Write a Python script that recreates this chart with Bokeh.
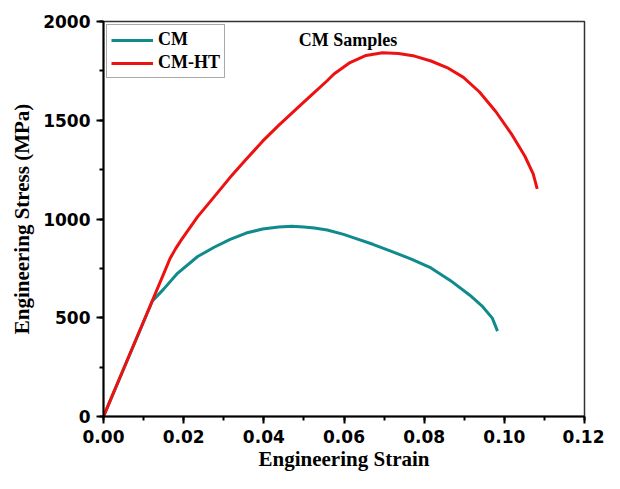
from bokeh.plotting import figure
from bokeh.models import (Range1d, SingleIntervalTicker, Label, Legend, LegendItem,
                          NumeralTickFormatter)
from bokeh.embed import file_html
from bokeh.resources import INLINE

# ---- data ----
cm_strain = [0.0, 0.0060, 0.0122, 0.0150, 0.0183, 0.0235, 0.0276, 0.0316,
             0.0356, 0.0397, 0.0437, 0.0470, 0.0500, 0.0526, 0.0558,
             0.0599, 0.0623, 0.0672, 0.0720, 0.0768, 0.0817, 0.0865,
             0.0914, 0.0946, 0.0970, 0.0983]
cm_stress = [0, 288, 585, 645, 722, 810, 857, 897,
             929, 949, 960, 963, 960, 954, 944,
             922, 906, 872, 835, 797, 752, 689,
             614, 556, 498, 432]

ht_strain = [0.0, 0.0080, 0.0150, 0.0166, 0.0180, 0.0195, 0.0235, 0.0276,
             0.0316, 0.0356, 0.0397, 0.0437, 0.0478, 0.0518, 0.0558,
             0.0575, 0.0615, 0.0655, 0.0696, 0.0736, 0.0776, 0.0817,
             0.0857, 0.0898, 0.0938, 0.0979, 0.1019, 0.1051, 0.1072, 0.1082]
ht_stress = [0, 385, 722, 800, 850, 897, 1012, 1112,
             1211, 1302, 1394, 1474, 1551, 1626, 1700,
             1734, 1792, 1828, 1842, 1838, 1825, 1800,
             1767, 1717, 1643, 1543, 1427, 1319, 1228, 1153]

x_tick_step = 0.02
y_tick_step = 500
minor_per_major = 2

series_names = ["CM", "CM-HT"]
series_colors = ["#0f8b8d", "#ee1111"]

TICK_FONT = "DejaVu Sans"
SERIF = "Liberation Serif"

p = figure(width=604, height=473, output_backend="svg", toolbar_location=None,
           x_range=Range1d(0, 0.12), y_range=Range1d(0, 2000),
           min_border_left=103, min_border_right=20, min_border_top=21,
           min_border_bottom=56)

p.xgrid.visible = False
p.ygrid.visible = False
p.background_fill_color = "white"
p.border_fill_color = "white"
p.outline_line_color = "#333333"
p.outline_line_width = 1.5

r1 = p.line(cm_strain, cm_stress, line_color=series_colors[0], line_width=3,
            line_join="round")
r2 = p.line(ht_strain, ht_stress, line_color=series_colors[1], line_width=3,
            line_join="round")

for ax, step in ((p.xaxis[0], x_tick_step), (p.yaxis[0], y_tick_step)):
    ax.ticker = SingleIntervalTicker(interval=step, num_minor_ticks=minor_per_major)
    ax.axis_line_color = "black"
    ax.axis_line_width = 2
    ax.major_tick_line_color = "black"
    ax.major_tick_line_width = 2
    ax.minor_tick_line_color = "black"
    ax.minor_tick_line_width = 2
    ax.major_tick_in = 0
    ax.major_tick_out = 7
    ax.minor_tick_in = 0
    ax.minor_tick_out = 4
    ax.major_label_text_font = TICK_FONT
    ax.major_label_text_font_style = "bold"
    ax.major_label_text_font_size = "17px"
    ax.major_label_text_color = "black"
    ax.axis_label_text_font = SERIF
    ax.axis_label_text_font_style = "bold"
    ax.axis_label_text_font_size = "21px"
    ax.axis_label_text_color = "black"

p.xaxis[0].formatter = NumeralTickFormatter(format="0.00")
p.xaxis[0].major_label_standoff = 6
p.xaxis[0].axis_label_standoff = 1
p.yaxis[0].major_label_standoff = 6
p.yaxis[0].axis_label_standoff = 6
p.xaxis[0].axis_label = "Engineering Strain"
p.yaxis[0].axis_label = "Engineering Stress (MPa)"

legend = Legend(items=[LegendItem(label=series_names[0], renderers=[r1]),
                       LegendItem(label=series_names[1], renderers=[r2])],
                location="top_left", margin=3, padding=4, spacing=2,
                glyph_width=42, glyph_height=20, label_height=20,
                label_standoff=5,
                label_text_font=SERIF, label_text_font_style="bold",
                label_text_font_size="18px", label_text_color="black",
                border_line_color="#555555", border_line_width=1.2,
                background_fill_alpha=1.0)
p.add_layout(legend)

p.add_layout(Label(x=0.0487, y=1908, text="CM Samples", text_font=SERIF,
                   text_font_style="bold", text_font_size="18px",
                   text_color="black", text_baseline="alphabetic"))

open("out.html", "w").write(file_html(p, INLINE))
